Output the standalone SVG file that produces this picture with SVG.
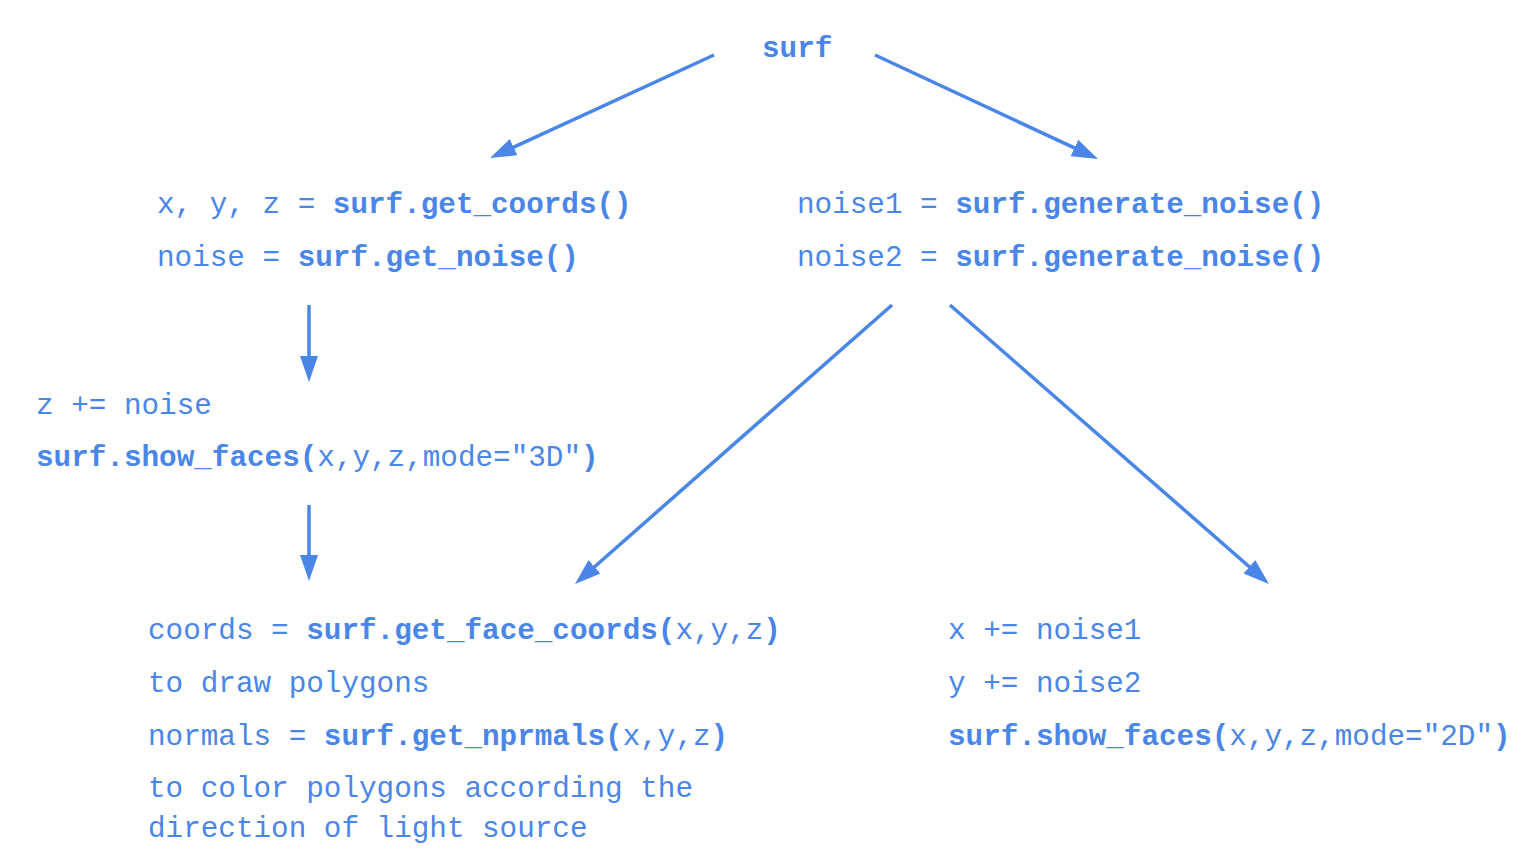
<svg xmlns="http://www.w3.org/2000/svg" width="1536" height="864" viewBox="0 0 1536 864">
<style>
text{font-family:"Liberation Mono","Courier New",monospace;font-size:29.3px;fill:#4a86e8;white-space:pre}
.b{font-weight:bold}
.c line{stroke:#4a86e8;stroke-width:3.5;marker-end:url(#ah)}
</style>
<defs>
<marker id="ah" markerUnits="userSpaceOnUse" markerWidth="26" markerHeight="18" refX="4" refY="9" orient="auto">
<path d="M0,0 L26,9 L0,18 z" fill="#4a86e8"/>
</marker>
</defs>
<rect width="1536" height="864" fill="#ffffff"/>
<g id="connectors" class="c">
<line x1="714" y1="55" x2="510" y2="148.8"/>
<line x1="875" y1="55" x2="1078.1" y2="149.7"/>
<line x1="309" y1="305" x2="309" y2="360"/>
<line x1="309" y1="505" x2="309" y2="559"/>
<line x1="892" y1="305" x2="591.5" y2="569.5"/>
<line x1="950" y1="305" x2="1252.4" y2="569.5"/>
</g>
<g id="node-surf">
<text x="762" y="57" class="b">surf</text>
</g>
<g id="node-coords">
<text x="157" y="213">x, y, z = <tspan class="b">surf.get_coords()</tspan></text>
<text x="157" y="266">noise = <tspan class="b">surf.get_noise()</tspan></text>
</g>
<g id="node-noise">
<text x="797" y="213">noise1 = <tspan class="b">surf.generate_noise()</tspan></text>
<text x="797" y="266">noise2 = <tspan class="b">surf.generate_noise()</tspan></text>
</g>
<g id="node-3d">
<text x="36" y="414">z += noise</text>
<text x="36" y="466"><tspan class="b">surf.show_faces(</tspan>x,y,z,mode="3D"<tspan class="b">)</tspan></text>
</g>
<g id="node-face">
<text x="148" y="639">coords = <tspan class="b">surf.get_face_coords(</tspan>x,y,z<tspan class="b">)</tspan></text>
<text x="148" y="692">to draw polygons</text>
<text x="148" y="745">normals = <tspan class="b">surf.get_nprmals(</tspan>x,y,z<tspan class="b">)</tspan></text>
<text x="148" y="797">to color polygons according the</text>
<text x="148" y="837">direction of light source</text>
</g>
<g id="node-2d">
<text x="948" y="639">x += noise1</text>
<text x="948" y="692">y += noise2</text>
<text x="948" y="745"><tspan class="b">surf.show_faces(</tspan>x,y,z,mode="2D"<tspan class="b">)</tspan></text>
</g>
</svg>
